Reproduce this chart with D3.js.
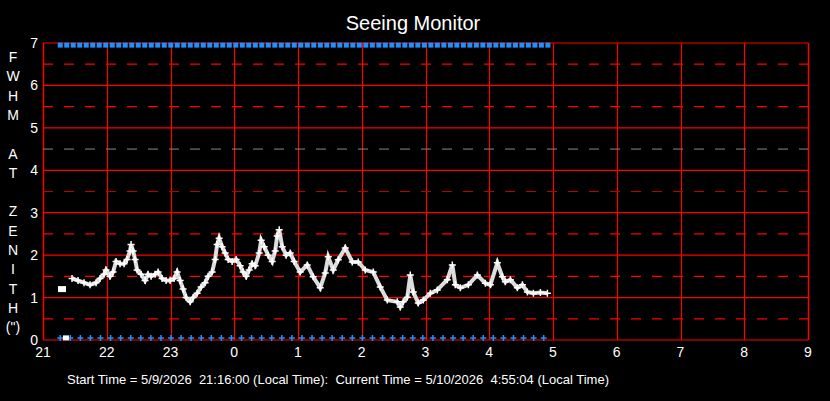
<!DOCTYPE html><html><head><script src="https://d3js.org/d3.v7.min.js"></script>
<style>body{margin:0;background:#000}</style></head><body><svg width="830" height="401"></svg><script>
const xTickLabels=["21","22","23","0","1","2","3","4","5","6","7","8","9"];
const yTicks=[0,1,2,3,4,5,6,7];
const px=[62,65,72,78,84,90,96,100,104,106,110,113,116,120,124,127,130,131,133,135,137,141,145,148,151,155,158,162,166,170,174,177,180,183,186,190,193,197,201,205,208,212,215,217,219,222,225,228,232,236,240,243,246,249,252,255,259,261,264,268,272,275,277,279,282,286,290,294,300,307,313,320,325,328,333,338,345,352,358,365,373,380,387,397,400,403,407,410,413,418,423,430,437,447,452,455,460,468,477,485,490,497,502,505,510,517,522,527,533,540,547,548];
const fwhm=[1.2,1.2,1.45,1.4,1.35,1.3,1.35,1.45,1.55,1.65,1.5,1.6,1.85,1.8,1.8,1.9,2.1,2.25,2.1,1.9,1.65,1.55,1.4,1.55,1.5,1.55,1.6,1.45,1.4,1.4,1.45,1.6,1.4,1.2,1.0,0.9,1.0,1.1,1.25,1.35,1.5,1.6,1.9,2.25,2.4,2.2,2.05,1.9,1.85,1.9,1.75,1.6,1.5,1.65,1.8,1.75,2.05,2.35,2.2,2.0,1.85,2.1,2.45,2.6,2.2,2.0,2.05,1.85,1.6,1.77,1.49,1.23,1.58,1.96,1.65,1.89,2.17,1.84,1.84,1.65,1.6,1.25,0.94,0.9,0.78,0.9,1.01,1.53,1.13,0.87,0.94,1.1,1.18,1.42,1.77,1.3,1.23,1.3,1.53,1.34,1.3,1.82,1.49,1.37,1.42,1.23,1.3,1.13,1.1,1.12,1.1];
const hours=px.map(p=>(p-43)/63.7);
const markStart=0.27, markEnd=7.92;
const svg=d3.select("svg");
const L=43,R=808,T=43,B=340;
const F="Arial,Liberation Sans";
const x=d3.scaleLinear().domain([0,12]).range([L,R]);
const y=d3.scaleLinear().domain([0,7]).range([B,T]);
for(let h=0;h<=12;h++)svg.append("line").attr("x1",Math.round(x(h))+0.5).attr("x2",Math.round(x(h))+0.5).attr("y1",T).attr("y2",B).attr("stroke","#f00").attr("stroke-width",h==0||h==12?1.5:1.2);
yTicks.forEach(v=>svg.append("line").attr("x1",L).attr("x2",R).attr("y1",y(v)).attr("y2",y(v)).attr("stroke","#f00").attr("stroke-width",1.2));
[0.5,1.5,2.5,3.5,4.5,5.5,6.5].forEach(v=>svg.append("line").attr("x1",L).attr("x2",R).attr("y1",y(v)).attr("y2",y(v)).attr("stroke",v==3.5?"#b00":v==4.5?"#888":"#f00").attr("stroke-dasharray","10,11").attr("stroke-width",v==4.5?1:1.2));
xTickLabels.forEach((t,i)=>svg.append("text").attr("x",x(i)).attr("y",357).attr("fill","#fff").attr("font-family",F).attr("font-size",14).attr("text-anchor","middle").text(t));
yTicks.forEach(v=>svg.append("text").attr("x",38).attr("y",y(v)+5).attr("fill","#fff").attr("font-family",F).attr("font-size",14).attr("text-anchor","end").text(v));
const lab=["F","W","H","M","","A","T","","Z","E","N","I","T","H","(\")"];
lab.forEach((c,i)=>svg.append("text").attr("x",13).attr("y",62+i*19.3).attr("fill","#fff").attr("font-family",F).attr("font-size",14).attr("text-anchor","middle").text(c));
svg.append("text").attr("x",413).attr("y",30).attr("fill","#fff").attr("font-family",F).attr("font-size",20).attr("text-anchor","middle").text("Seeing Monitor");
svg.append("text").attr("x",67).attr("y",384).attr("fill","#fff").attr("font-family",F).attr("font-size",13).text("Start Time = 5/9/2026  21:16:00 (Local Time):  Current Time = 5/10/2026  4:55:04 (Local Time)").attr("xml:space","preserve").style("white-space","pre");
svg.selectAll(".tb").data(d3.range(markStart,markEnd,0.102)).enter().append("rect").attr("x",d=>x(d)-2.5).attr("y",y(6.95)-2.5).attr("width",5).attr("height",5).attr("fill","#1e90ff");
const plus=(cx,cy,s,c,w)=>svg.append("path").attr("d",`M${cx-s},${cy}H${cx+s}M${cx},${cy-s}V${cy+s}`).attr("stroke",c).attr("stroke-width",w);
d3.range(markStart,markEnd,0.158).forEach(h=>plus(x(h),y(0.05),3,"#1e90ff",1.5));
svg.append("rect").attr("x",x(0.36)-3).attr("y",y(0.05)-2.5).attr("width",6).attr("height",5).attr("fill","#fff");
svg.append("path").datum(hours.map((h,i)=>[h,fwhm[i]]).filter((d,i)=>i>1))
 .attr("d",d3.line().x(d=>x(d[0])).y(d=>y(d[1]))).attr("fill","none").attr("stroke","#ddd").attr("stroke-width",4);
hours.forEach((h,i)=>{ if(i>1) plus(x(h),y(fwhm[i]),3.5,"#fff",1.5); });
svg.append("rect").attr("x",x(hours[0])-4).attr("y",y(1.2)-3).attr("width",8).attr("height",6).attr("fill","#fff");
</script></body></html>
